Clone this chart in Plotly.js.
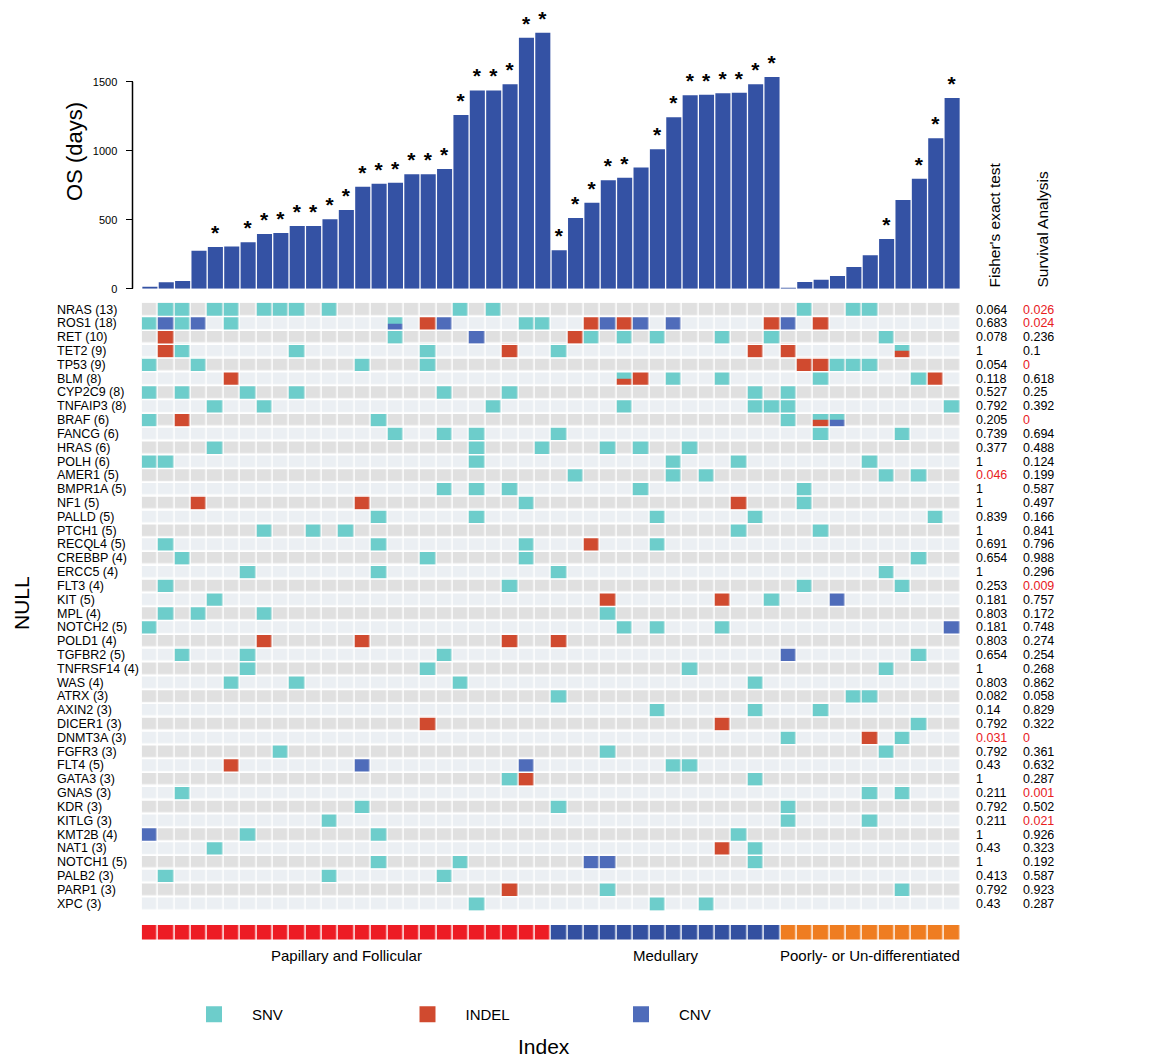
<!DOCTYPE html>
<html><head><meta charset="utf-8">
<script src="https://cdn.plot.ly/plotly-3.0.1.min.js"></script>
<style>html,body{margin:0;padding:0;background:#fff;}#chart{width:1158px;height:1062px;}</style>
</head><body><div id="chart"></div>
<script>
// ---------- DATA ----------
const groupNames = ["Papillary and Follicular", "Medullary", "Poorly- or Un-differentiated"];
const groupSizes = [25, 14, 11];

const osDays = [15, 46, 56, 275, 302, 305, 336, 396, 404, 454, 454, 503, 570, 739, 761, 768, 829, 829, 867, 1259, 1437, 1437, 1481, 1819, 1855,
  278, 512, 623, 785, 804, 879, 1010, 1242, 1401, 1406, 1416, 1420, 1481, 1534,
  7, 48, 65, 92, 157, 242, 360, 643, 797, 1090, 1382];

const starFlag = [0, 0, 0, 0, 1, 0, 1, 1, 1, 1, 1, 1, 1, 1, 1, 1, 1, 1, 1, 1, 1, 1, 1, 1, 1,
  1, 1, 1, 1, 1, 0, 1, 1, 1, 1, 1, 1, 1, 1,
  0, 0, 0, 0, 0, 0, 1, 0, 1, 1, 1];

const genes = ["NRAS (13)", "ROS1 (18)", "RET (10)", "TET2 (9)", "TP53 (9)", "BLM (8)", "CYP2C9 (8)", "TNFAIP3 (8)", "BRAF (6)", "FANCG (6)",
  "HRAS (6)", "POLH (6)", "AMER1 (5)", "BMPR1A (5)", "NF1 (5)", "PALLD (5)", "PTCH1 (5)", "RECQL4 (5)", "CREBBP (4)", "ERCC5 (4)",
  "FLT3 (4)", "KIT (5)", "MPL (4)", "NOTCH2 (5)", "POLD1 (4)", "TGFBR2 (5)", "TNFRSF14 (4)", "WAS (4)", "ATRX (3)", "AXIN2 (3)",
  "DICER1 (3)", "DNMT3A (3)", "FGFR3 (3)", "FLT4 (5)", "GATA3 (3)", "GNAS (3)", "KDR (3)", "KITLG (3)", "KMT2B (4)", "NAT1 (3)",
  "NOTCH1 (5)", "PALB2 (3)", "PARP1 (3)", "XPC (3)"];

const fisherP = ["0.064", "0.683", "0.078", "1", "0.054", "0.118", "0.527", "0.792", "0.205", "0.739",
  "0.377", "1", "0.046", "1", "1", "0.839", "1", "0.691", "0.654", "1",
  "0.253", "0.181", "0.803", "0.181", "0.803", "0.654", "1", "0.803", "0.082", "0.14",
  "0.792", "0.031", "0.792", "0.43", "1", "0.211", "0.792", "0.211", "1", "0.43",
  "1", "0.413", "0.792", "0.43"];

const survivalP = ["0.026", "0.024", "0.236", "0.1", "0", "0.618", "0.25", "0.392", "0", "0.694",
  "0.488", "0.124", "0.199", "0.587", "0.497", "0.166", "0.841", "0.796", "0.988", "0.296",
  "0.009", "0.757", "0.172", "0.748", "0.274", "0.254", "0.268", "0.862", "0.058", "0.829",
  "0.322", "0", "0.361", "0.632", "0.287", "0.001", "0.502", "0.021", "0.926", "0.323",
  "0.192", "0.587", "0.923", "0.287"];

// sample indices (0-based) carrying each alteration type, one list per gene
const snvCols = [
  [1,2,4,5,7,8,9,11,19,21,40,43,44], [0,2,5,15,23,24], [15,27,29,31,35,38,45], [2,9,17,25,46], [0,3,13,17,42,43,44],
  [29,32,35,41,47], [0,2,6,9,18,22,37,39], [4,7,21,29,37,38,39,49], [0,14,39,41,42], [15,18,20,25,41,46],
  [4,20,24,28,30,33], [0,1,20,32,36,44], [26,32,34,45,47], [18,20,22,30,40], [23,40],
  [14,20,31,37,48], [7,10,12,36,41], [1,14,23,31], [2,17,23,47], [6,14,25,45],
  [1,22,40,46], [4,38], [1,3,7,28], [0,29,31,35], [],
  [2,6,18,47], [6,17,33,45], [5,9,19,37], [25,43,44], [31,37,41],
  [47], [39,46], [8,28,45], [32,33], [22,37],
  [2,44,46], [13,25,39], [11,39,44], [6,14,36], [4,37],
  [14,19,37], [1,11,18], [28,46], [20,31,34]];
const indelCols = [
  [], [17,27,29,38,41], [1,26], [1,22,37,39,46], [40,41],
  [5,29,30,48], [], [], [2,41], [],
  [], [], [], [], [3,13,36],
  [], [], [27], [], [],
  [], [28,35], [], [], [7,13,22,25],
  [], [], [], [], [],
  [17,35], [44], [], [5], [23],
  [], [], [], [], [35],
  [], [], [22], []];
const cnvCols = [
  [], [1,3,15,18,28,30,32,39], [20], [], [],
  [], [], [], [42], [],
  [], [], [], [], [],
  [], [], [], [], [],
  [], [42], [], [49], [],
  [39], [], [], [], [],
  [], [], [], [13,23], [],
  [], [], [], [0], [],
  [27,28], [], [], []];

const typeNames = ["SNV", "INDEL", "CNV"];

// ---------- STYLE ----------
const FONT = "Liberation Sans, Arial, Helvetica, sans-serif";
const W = 1158, H = 1062;
const typeColors = ["#6dcdcb", "#d04a2f", "#4f6cba"];
const groupColors = ["#ed1c24", "#3350a0", "#ef7d21"];
const barColor = "#3452a4";
const px = v => v / W, py = v => 1 - v / H;

// ---------- DERIVED ----------
const nS = osDays.length, nG = genes.length;
const sampleIdx = osDays.map((_, i) => i);
const sampleGroup = [];
groupSizes.forEach((n, g) => { for (let k = 0; k < n; k++) sampleGroup.push(g); });

const bgZ = genes.map((_, r) => sampleIdx.map(() => r % 2));
const geneIdx = genes.map((_, r) => r);

const mutZ = [], mutY = [];
for (let r = 0; r < nG; r++) {
  const top = Array(nS).fill(null), bot = Array(nS).fill(null);
  for (let c = 0; c < nS; c++) {
    const t = [];
    if (snvCols[r].includes(c)) t.push(1);
    if (indelCols[r].includes(c)) t.push(2);
    if (cnvCols[r].includes(c)) t.push(3);
    if (t.length === 1) { top[c] = t[0]; bot[c] = t[0]; }
    else if (t.length >= 2) { top[c] = t[0]; bot[c] = t[1]; }
  }
  mutZ.push(top); mutY.push(r - 0.25);
  mutZ.push(bot); mutY.push(r + 0.25);
}
const mutScale = [[0, typeColors[0]], [1/3, typeColors[0]], [1/3, typeColors[1]], [2/3, typeColors[1]], [2/3, typeColors[2]], [1, typeColors[2]]];
const grpScale = [[0, groupColors[0]], [1/3, groupColors[0]], [1/3, groupColors[1]], [2/3, groupColors[1]], [2/3, groupColors[2]], [1, groupColors[2]]];

const traces = [
  {type: "bar", x: sampleIdx, y: osDays, xaxis: "x", yaxis: "y",
   marker: {color: barColor, line: {width: 0}}, showlegend: false, hoverinfo: "skip",
   text: starFlag.map(f => f ? "<b>*</b>" : ""), textposition: "outside", constraintext: "none",
   cliponaxis: false, textfont: {family: FONT, size: 21, color: "#000"}},
  {type: "heatmap", x: sampleIdx, y: geneIdx, z: bgZ, xaxis: "x", yaxis: "y2",
   colorscale: [[0, "#e0e0e0"], [1, "#ebeff3"]], zmin: 0, zmax: 1, showscale: false,
   xgap: 1.5, ygap: 1.5, hoverinfo: "skip"},
  {type: "heatmap", x: sampleIdx, y: mutY, z: mutZ, xaxis: "x", yaxis: "y2",
   colorscale: mutScale, zmin: 0.5, zmax: 3.5, showscale: false,
   xgap: 1.5, ygap: 0, hoverinfo: "skip"},
  {type: "heatmap", x: sampleIdx, y: [0], z: [sampleGroup], xaxis: "x", yaxis: "y3",
   colorscale: grpScale, zmin: -0.5, zmax: 2.5, showscale: false,
   xgap: 1.5, ygap: 0, hoverinfo: "skip"}
];
typeNames.forEach((n, i) => traces.push({
  type: "scatter", mode: "markers", x: [null], y: [null], xaxis: "x", yaxis: "y",
  name: n, marker: {symbol: "square", size: 16, color: typeColors[i]}, showlegend: true
}));

const annotations = [];
genes.forEach((g, r) => annotations.push({
  text: g, xref: "paper", yref: "y2", x: px(55), y: r, xanchor: "left", yanchor: "middle",
  showarrow: false, font: {family: FONT, size: 12.5, color: "#000"}
}));
const redIf = v => parseFloat(v) < 0.05 ? "#e8201e" : "#000";
fisherP.forEach((v, r) => annotations.push({
  text: v, xref: "paper", yref: "y2", x: px(974), y: r, xanchor: "left", yanchor: "middle",
  showarrow: false, font: {family: FONT, size: 12.5, color: redIf(v)}
}));
survivalP.forEach((v, r) => annotations.push({
  text: v, xref: "paper", yref: "y2", x: px(1021), y: r, xanchor: "left", yanchor: "middle",
  showarrow: false, font: {family: FONT, size: 12.5, color: redIf(v)}
}));
let start = 0;
groupNames.forEach((g, i) => {
  annotations.push({text: g, xref: "x", yref: "paper", x: start + (groupSizes[i] - 1) / 2, y: py(955),
    xanchor: "center", yanchor: "middle", showarrow: false, font: {family: FONT, size: 15, color: "#000"}});
  start += groupSizes[i];
});
annotations.push({text: "Fisher's exact test", xref: "paper", yref: "paper", x: px(994), y: py(290),
  xanchor: "center", yanchor: "bottom", textangle: -90, showarrow: false, font: {family: FONT, size: 15.5, color: "#000"}});
annotations.push({text: "Survival Analysis", xref: "paper", yref: "paper", x: px(1042), y: py(290),
  xanchor: "center", yanchor: "bottom", textangle: -90, showarrow: false, font: {family: FONT, size: 15.5, color: "#000"}});
annotations.push({text: "OS (days)", xref: "paper", yref: "paper", x: px(75), y: py(152),
  xanchor: "center", yanchor: "middle", textangle: -90, showarrow: false, font: {family: FONT, size: 22, color: "#000"}});
annotations.push({text: "NULL", xref: "paper", yref: "paper", x: px(21), y: py(603),
  xanchor: "center", yanchor: "middle", textangle: -90, showarrow: false, font: {family: FONT, size: 21, color: "#000"}});
annotations.push({text: "Index", xref: "paper", yref: "paper", x: px(544), y: py(1046),
  xanchor: "center", yanchor: "middle", showarrow: false, font: {family: FONT, size: 21, color: "#000"}});

const shapes = [];
for (let r = 0; r < nG - 1; r++) {
  shapes.push({type: "line", xref: "x", yref: "y2", x0: -0.5, x1: nS - 0.5, y0: r + 0.5, y1: r + 0.5,
    line: {color: "#ffffff", width: 1.5}, layer: "above"});
}
shapes.push({type: "line", xref: "paper", yref: "y", x0: px(132.5), x1: px(132.5), y0: 0, y1: 1500,
  line: {color: "#000", width: 1.5}});

const layout = {
  width: W, height: H, margin: {l: 0, r: 0, t: 0, b: 0},
  paper_bgcolor: "#fff", plot_bgcolor: "rgba(0,0,0,0)",
  font: {family: FONT, color: "#000"},
  bargap: 0.08, showlegend: true,
  xaxis: {domain: [px(141.7), px(960.3)], range: [-0.5, nS - 0.5], visible: false, fixedrange: true},
  yaxis: {domain: [py(288.7), py(12.7)], range: [0, 2000], anchor: "free", position: px(132.5),
    tickvals: [0, 500, 1000, 1500], ticks: "outside", ticklen: 7, tickwidth: 1.5, tickcolor: "#000",
    showgrid: false, zeroline: false, showline: false, ticklabelstandoff: 6,
    tickfont: {family: FONT, size: 11, color: "#000"}},
  yaxis2: {domain: [py(910.5), py(302.7)], range: [nG - 0.5, -0.5], visible: false, anchor: "x"},
  yaxis3: {domain: [py(939.5), py(925)], range: [-0.5, 0.5], visible: false, anchor: "x"},
  legend: {orientation: "h", x: px(176), y: py(1014.5), xanchor: "left", yanchor: "middle",
    itemwidth: 66, entrywidth: 132.5, entrywidthmode: "pixels", font: {family: FONT, size: 15, color: "#000"},
    bgcolor: "rgba(0,0,0,0)", borderwidth: 0},
  annotations: annotations, shapes: shapes
};

Plotly.newPlot("chart", traces, layout, {staticPlot: true, displayModeBar: false});
</script>
</body></html>
